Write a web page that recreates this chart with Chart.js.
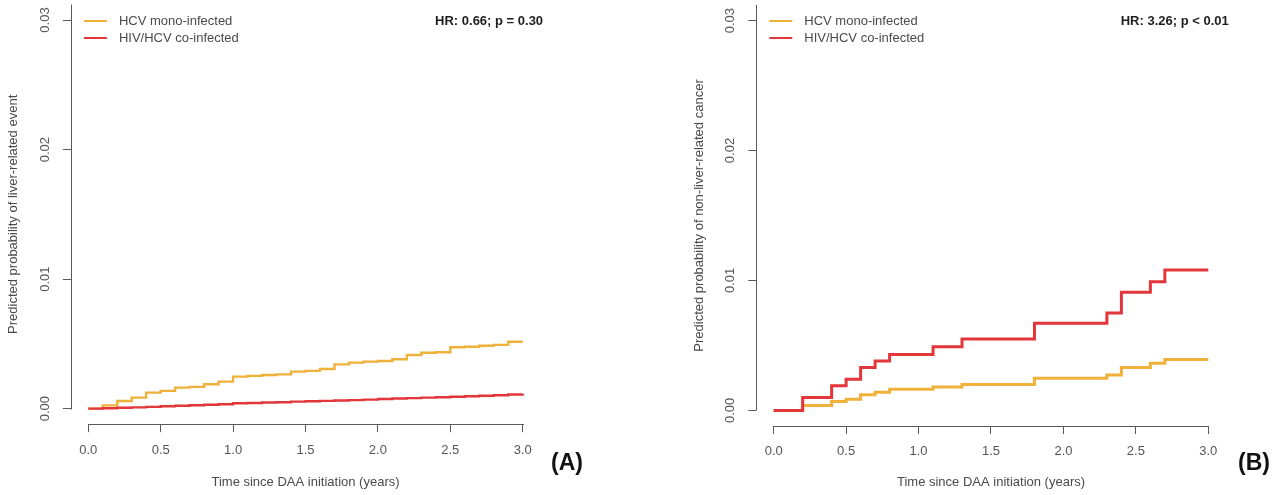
<!DOCTYPE html>
<html><head><meta charset="utf-8">
<script src="https://cdn.jsdelivr.net/npm/chart.js@4.4.1/dist/chart.umd.min.js"></script>
<style>
html,body{margin:0;padding:0;background:#fff;}
#wrap{position:relative;width:1272px;height:495px;overflow:hidden;background:#fff;}
canvas{position:absolute;top:0;}
#cA{left:0;width:636px;height:495px;}
#cB{left:636px;width:636px;height:495px;}
.tag{position:absolute;font-family:"Liberation Sans",Arial,sans-serif;font-weight:bold;font-size:23px;color:#111;line-height:1;}
</style></head><body>
<div id="wrap">
<canvas id="cA" width="636" height="495"></canvas>
<canvas id="cB" width="636" height="495"></canvas>
<div class="tag" style="left:551px;top:451px">(A)</div>
<div class="tag" style="left:1238px;top:451px">(B)</div>
</div>
<script>
// ---------- data ----------
const seriesLabels = ['HCV mono-infected', 'HIV/HCV co-infected'];
const xTicks = [0, 0.5, 1.0, 1.5, 2.0, 2.5, 3.0];
const yTicks = [0, 0.01, 0.02, 0.03];

// Panel A: liver-related event
const aTimes = [0,0.1,0.2,0.3,0.4,0.5,0.6,0.7,0.8,0.9,1.0,1.1,1.2,1.3,1.4,1.5,1.6,1.7,1.8,1.9,2.0,2.1,2.2,2.3,2.4,2.5,2.6,2.7,2.8,2.9,3.0];
const aMono = [0,0.00025,0.00059,0.00085,0.00124,0.00137,0.00162,0.00168,0.00188,0.00209,0.00247,0.00253,0.0026,0.00265,0.00286,0.00292,0.00306,0.00342,0.00355,0.00363,0.00368,0.00381,0.00414,0.00432,0.00436,0.00474,0.00478,0.00486,0.00492,0.00517,0.00517];
const aCo = [0,0.00003,0.00007,0.0001,0.00014,0.00018,0.00022,0.00026,0.0003,0.00034,0.00042,0.00044,0.00047,0.0005,0.00054,0.00057,0.0006,0.00063,0.00066,0.0007,0.00075,0.00078,0.00081,0.00085,0.00088,0.00092,0.00096,0.001,0.00104,0.00109,0.00113];
const aYTitle = 'Predicted probability of liver-related event';
const aHR = 'HR: 0.66; p = 0.30';

// Panel B: non-liver-related cancer
const bTimes = [0,0.2,0.4,0.5,0.6,0.7,0.8,1.1,1.3,1.8,2.3,2.4,2.6,2.7,3.0];
const bMono = [0,0.00037,0.00068,0.00086,0.0012,0.0014,0.00163,0.0018,0.002,0.00247,0.00273,0.0033,0.00363,0.00392,0.00392];
const bCo = [0,0.001,0.0019,0.0024,0.0033,0.0038,0.0043,0.0049,0.0055,0.0067,0.0075,0.0091,0.0099,0.0108,0.0108];
const bYTitle = 'Predicted probability of non-liver-related cancer';
const bHR = 'HR: 3.26; p < 0.01';

const xTitle = 'Time since DAA initiation (years)';

// ---------- styles ----------
const MONO_COLOR = '#F0B13A';
const CO_COLOR = '#E2363A';
const AXIS_COLOR = '#5a5a5a';
const TEXT_COLOR = '#4a4a4a';
const FONT = '"Liberation Sans", Arial, Helvetica, sans-serif';

const rPlugin = {
  id: 'rStyle',
  afterDraw(chart, args, opts) {
    const {ctx, chartArea: ca, scales: {x, y}} = chart;
    ctx.save();
    // axes lines (R style)
    ctx.strokeStyle = AXIS_COLOR;
    ctx.lineWidth = 1;
    const xl = Math.round(ca.left) + 0.5;
    ctx.beginPath();
    ctx.moveTo(xl, ca.top);
    ctx.lineTo(xl, Math.round(y.getPixelForValue(yTicks[0])) + 0.5);
    ctx.stroke();
    const yb = Math.round(ca.bottom) + 0.5;
    ctx.beginPath();
    ctx.moveTo(Math.round(x.getPixelForValue(xTicks[0])), yb);
    ctx.lineTo(Math.round(x.getPixelForValue(xTicks[xTicks.length - 1])) + 1, yb);
    ctx.stroke();
    // legend
    ctx.font = '13px ' + FONT;
    ctx.textBaseline = 'middle';
    ctx.textAlign = 'left';
    chart.data.datasets.forEach((ds, i) => {
      const yy = ca.top + opts.rowTop + i * opts.rowGap;
      ctx.strokeStyle = ds.borderColor;
      ctx.lineWidth = 2;
      ctx.beginPath();
      ctx.moveTo(ca.left + 13, yy);
      ctx.lineTo(ca.left + 36, yy);
      ctx.stroke();
      ctx.fillStyle = TEXT_COLOR;
      ctx.fillText(ds.label, ca.left + 48, yy);
    });
    // HR annotation
    ctx.font = 'bold 13px ' + FONT;
    ctx.textAlign = 'right';
    ctx.fillStyle = '#1e1e1e';
    ctx.fillText(opts.hr, ca.right + 3, ca.top + opts.rowTop);
    ctx.restore();
  }
};

function makeChart(id, times, mono, co, yTitle, hr, geo) {
  const pts = arr => times.map((t, i) => ({x: t, y: arr[i]}));
  return new Chart(document.getElementById(id), {
    type: 'line',
    data: {
      datasets: [
        {label: seriesLabels[0], data: pts(mono), borderColor: MONO_COLOR, borderWidth: geo.lw, stepped: true, pointRadius: 0, fill: false, order: 1},
        {label: seriesLabels[1], data: pts(co), borderColor: CO_COLOR, borderWidth: geo.lw, stepped: true, pointRadius: 0, fill: false, order: 0}
      ]
    },
    options: {
      responsive: false,
      animation: false,
      events: [],
      layout: {padding: {top: geo.top, right: geo.right, left: 0, bottom: 0}},
      plugins: {
        legend: {display: false},
        tooltip: {enabled: false},
        rStyle: {hr: hr, rowTop: geo.rowTop, rowGap: 17}
      },
      scales: {
        x: {
          type: 'linear', min: -0.12, max: 3.12, bounds: 'data',
          afterBuildTicks: s => { s.ticks = xTicks.map(v => ({value: v})); },
          afterFit: s => { s.height = geo.xh; s.paddingLeft = 0; s.paddingRight = 0; },
          border: {display: false},
          grid: {drawOnChartArea: false, drawTicks: true, tickLength: 8, color: AXIS_COLOR, lineWidth: 1},
          ticks: {autoSkip: false, maxRotation: 0, minRotation: 0, padding: 10, color: '#555', font: {family: FONT, size: 13}, callback: v => Number(v).toFixed(1)},
          title: {display: true, text: xTitle, color: TEXT_COLOR, font: {family: FONT, size: 13}, padding: {top: 0, bottom: 5.2}}
        },
        y: {
          type: 'linear', min: -0.0012, max: 0.0312, bounds: 'data',
          afterBuildTicks: s => { s.ticks = yTicks.map(v => ({value: v})); },
          afterFit: s => { s.width = geo.yw; s.paddingTop = 0; s.paddingBottom = 0; },
          border: {display: false},
          grid: {drawOnChartArea: false, drawTicks: true, tickLength: 8, color: AXIS_COLOR, lineWidth: 1},
          ticks: {autoSkip: false, minRotation: 90, maxRotation: 90, crossAlign: 'center', padding: 5, color: '#555', font: {family: FONT, size: 13}, callback: v => Number(v).toFixed(2)},
          title: {display: true, text: yTitle, color: TEXT_COLOR, font: {family: FONT, size: 13}, padding: {top: geo.ytp, bottom: 0}}
        }
      }
    },
    plugins: [rPlugin]
  });
}

makeChart('cA', aTimes, aMono, aCo, aYTitle, aHR,
  {top: 4.5, right: 95.9, yw: 70.9, xh: 70.8, ytp: 5.2, rowTop: 16.5, lw: 2.4});
makeChart('cB', bTimes, bMono, bCo, bYTitle, bHR,
  {top: 5, right: 46.3, yw: 120.3, xh: 69, ytp: 55.2, rowTop: 16, lw: 3});
</script>
</body></html>
